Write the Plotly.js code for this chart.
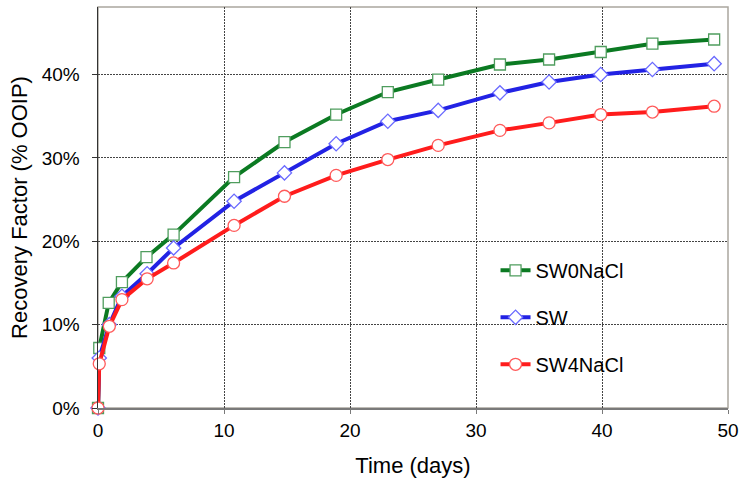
<!DOCTYPE html>
<html>
<head>
<meta charset="utf-8">
<script src="https://cdn.plot.ly/plotly-3.0.1.min.js"></script>
<style>
  html, body { margin: 0; padding: 0; background: #fff; }
  #chart { width: 740px; height: 486px; }
</style>
</head>
<body>
<div id="chart"></div>
<script>
// Recovery factor over time for three brines
const seriesNames = ["SW0NaCl", "SW", "SW4NaCl"];

const daysSW0NaCl = [0, 0.1, 0.85, 1.9, 3.85, 6.0, 10.8, 14.8, 18.9, 23.0, 27.0, 31.9, 35.8, 39.9, 44.0, 48.9];
const rfSW0NaCl   = [0, 7.2, 12.6, 15.1, 18.1, 20.8, 27.7, 31.9, 35.2, 37.9, 39.4, 41.2, 41.8, 42.7, 43.7, 44.2];

const daysSW = [0, 0.1, 0.9, 1.9, 3.9, 6.0, 10.8, 14.8, 18.9, 23.0, 27.0, 31.9, 35.8, 39.9, 44.0, 48.9];
const rfSW   = [0, 6.0, 10.0, 13.4, 16.1, 19.2, 24.8, 28.2, 31.7, 34.4, 35.7, 37.8, 39.1, 40.0, 40.6, 41.3];

const daysSW4NaCl = [0, 0.1, 0.9, 1.9, 3.9, 6.0, 10.8, 14.8, 18.9, 23.0, 27.0, 31.9, 35.8, 39.9, 44.0, 48.9];
const rfSW4NaCl   = [0, 5.3, 9.8, 13.0, 15.5, 17.4, 21.9, 25.4, 27.9, 29.8, 31.5, 33.3, 34.2, 35.2, 35.5, 36.2];

const xTicks = [0, 10, 20, 30, 40, 50];
const yTicks = [0, 10, 20, 30, 40];

const FONT = "Liberation Sans, Arial, Helvetica, sans-serif";

function series(name, x, y, lineColor, symbol, edgeColor, size) {
  return {
    type: "scatter",
    mode: "lines+markers",
    name: name,
    legendgroup: name,
    x: x,
    y: y,
    cliponaxis: false,
    line: { color: lineColor, width: 4 },
    marker: { symbol: symbol, size: size, color: "#ffffff",
              line: { color: edgeColor, width: 1.3 } }
  };
}

const traces = [
  series(seriesNames[0], daysSW0NaCl, rfSW0NaCl, "#0b7a22", "square", "#4f9d5e", 11),
  series(seriesNames[1], daysSW, rfSW, "#2222e4", "diamond", "#6a6aff", 11),
  series(seriesNames[2], daysSW4NaCl, rfSW4NaCl, "#ff1c1c", "circle", "#ff5a5a", 12)
];

const gridStyle = { gridcolor: "#444444", gridwidth: 1, griddash: "2px,1px" };

const layout = {
  width: 740,
  height: 486,
  margin: { l: 98, r: 12, t: 7, b: 78 },
  paper_bgcolor: "#ffffff",
  plot_bgcolor: "#ffffff",
  font: { family: FONT, color: "#000000", size: 19 },
  showlegend: true,
  legend: {
    x: 0.631, y: 0.392, xanchor: "left", yanchor: "top",
    bgcolor: "rgba(0,0,0,0)", borderwidth: 0,
    font: { family: FONT, size: 20, color: "#000" },
    tracegroupgap: 18
  },
  xaxis: Object.assign({
    range: [0, 50],
    tickvals: xTicks,
    ticktext: xTicks.map(String),
    showgrid: true,
    zeroline: false,
    showline: true, linecolor: "#7a7a7a", linewidth: 2,
    ticks: "outside", ticklen: 4, tickcolor: "#7a7a7a",
    tickfont: { family: FONT, size: 19 },
    title: { text: "Time (days)", font: { family: FONT, size: 22 }, standoff: 18 }
  }, gridStyle),
  yaxis: Object.assign({
    range: [0, 48.1],
    tickvals: yTicks,
    ticktext: yTicks.map(v => v + "%"),
    showgrid: true,
    zeroline: false,
    showline: true, linecolor: "#333333", linewidth: 1.5,
    ticks: "outside", ticklen: 5, tickcolor: "#333333",
    tickfont: { family: FONT, size: 19 },
    ticklabelstandoff: 8,
    title: { text: "Recovery Factor (% OOIP)", font: { family: FONT, size: 22 }, standoff: 8 }
  }, gridStyle),
  shapes: [
    // plot frame (top and right edges)
    { type: "rect", xref: "paper", yref: "paper", x0: 0, x1: 1, y0: 0, y1: 1,
      line: { color: "#aaa79f", width: 1.5 }, layer: "below" },
    // white panel behind the legend
    { type: "rect", xref: "paper", yref: "paper", x0: 0.576, x1: 0.917, y0: 0.047, y1: 0.41,
      fillcolor: "#ffffff", line: { width: 0 }, layer: "below" }
  ]
};

Plotly.newPlot("chart", traces, layout, { displayModeBar: false, staticPlot: true });
</script>
</body>
</html>
